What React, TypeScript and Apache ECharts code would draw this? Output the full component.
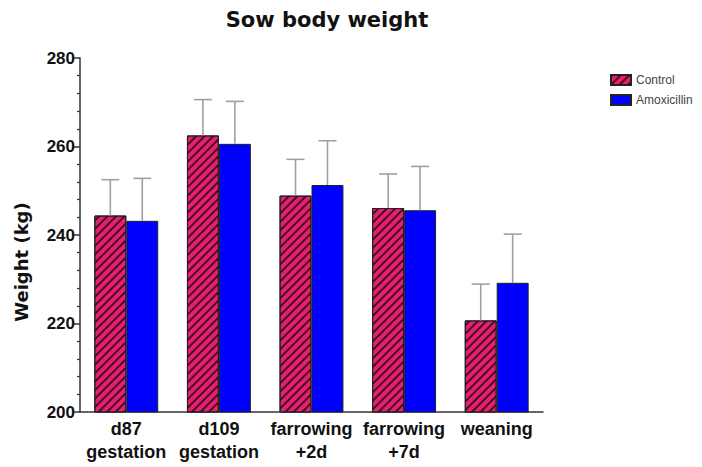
import React, { useEffect, useRef } from "react";
import * as echarts from "echarts";

const categories = ["d87\ngestation", "d109\ngestation", "farrowing\n+2d", "farrowing\n+7d", "weaning"];
const controlMeans = [244.4, 262.5, 248.9, 246.1, 220.7];
const controlErr = [8.1, 8.1, 8.2, 7.7, 8.2];
const amoxMeans = [243.2, 260.6, 251.3, 245.6, 229.2];
const amoxErr = [9.6, 9.6, 10.0, 9.9, 11.0];
const yTicks = { min: 200, max: 280, interval: 20 };

const BAR_GAP_CAT = 0.31;

function errorSeries(name: string, means: number[], errs: number[], side: number) {
  return {
    type: "custom",
    name,
    z: 5,
    silent: true,
    data: means.map((m, i) => [i, m, errs[i]]),
    encode: { x: 0, y: 1 },
    renderItem: (params: any, api: any) => {
      const idx = api.value(0);
      const m = api.value(1);
      const e = api.value(2);
      const band = api.size([1, 0])[0];
      const barW = (band * (1 - BAR_GAP_CAT)) / 2;
      const base = api.coord([idx, m]);
      const top = api.coord([idx, m + e]);
      const x = base[0] + side * barW / 2;
      const cap = 9;
      const style = { stroke: "#a0a0a0", lineWidth: 1.6 };
      return {
        type: "group",
        children: [
          { type: "line", shape: { x1: x, y1: base[1], x2: x, y2: top[1] }, style },
          { type: "line", shape: { x1: x - cap, y1: top[1], x2: x + cap, y2: top[1] }, style },
        ],
      };
    },
  };
}

export default function App() {
  const ref = useRef<HTMLDivElement>(null);
  useEffect(() => {
    if (!ref.current) return;
    const chart = echarts.init(ref.current, undefined, { renderer: "svg" });
    const labelFont = "Liberation Sans, Arial, sans-serif";
    chart.setOption({
      animation: false,
      backgroundColor: "#ffffff",
      title: {
        text: "Sow body weight",
        left: 322,
        top: 4,
        textAlign: "center",
        textStyle: { fontFamily: "DejaVu Sans", fontWeight: "bold", fontSize: 21, color: "#111" },
      },
      legend: {
        data: ["Control", "Amoxicillin"],
        orient: "vertical",
        left: 610,
        top: 74,
        icon: "rect",
        itemWidth: 20,
        itemHeight: 10,
        itemGap: 8,
        padding: 0,
        textStyle: { fontFamily: labelFont, fontSize: 12, color: "#444" },
      },
      grid: { left: 80, right: 159, top: 58, bottom: 55, containLabel: false },
      xAxis: {
        type: "category",
        data: categories,
        axisTick: { show: false },
        axisLine: { lineStyle: { color: "#333", width: 1.5 } },
        axisLabel: {
          fontFamily: labelFont,
          fontWeight: "bold",
          fontSize: 18,
          lineHeight: 23,
          color: "#111",
          margin: 5,
          interval: 0,
        },
      },
      yAxis: {
        type: "value",
        min: yTicks.min,
        max: yTicks.max,
        interval: yTicks.interval,
        splitLine: { show: false },
        axisLine: { show: true, lineStyle: { color: "#333", width: 1.5 } },
        axisTick: { show: true, length: 6, lineStyle: { color: "#333", width: 1.5 } },
        minorTick: { show: true, splitNumber: 5, length: 3, lineStyle: { color: "#333", width: 1.2 } },
        axisLabel: {
          fontFamily: labelFont,
          fontWeight: "bold",
          fontSize: 17,
          color: "#111",
          margin: 5,
        },
      },
      graphic: [
        {
          type: "text",
          x: 21,
          y: 262,
          rotation: Math.PI / 2,
          style: {
            text: "Weight (kg)",
            fontFamily: "DejaVu Sans",
            fontWeight: "bold",
            fontSize: 18,
            fill: "#111",
            textAlign: "center",
            textVerticalAlign: "middle",
          },
        },
      ],
      series: [
        {
          type: "bar",
          name: "Control",
          data: controlMeans,
          barGap: "0%",
          barCategoryGap: `${BAR_GAP_CAT * 100}%`,
          itemStyle: {
            color: "#e81e6e",
            borderColor: "#222",
            borderWidth: 1,
            decal: {
              symbol: "rect",
              symbolSize: 1,
              dashArrayX: [1, 0],
              dashArrayY: [2, 4],
              rotation: -Math.PI / 4,
              color: "rgba(40,10,25,0.85)",
            },
          },
        },
        {
          type: "bar",
          name: "Amoxicillin",
          data: amoxMeans,
          barGap: "0%",
          barCategoryGap: `${BAR_GAP_CAT * 100}%`,
          itemStyle: { color: "#0000ff", borderColor: "#222", borderWidth: 1 },
        },
        errorSeries("ctrlErr", controlMeans, controlErr, -1),
        errorSeries("amoxErr", amoxMeans, amoxErr, 1),
      ],
    });
    return () => chart.dispose();
  }, []);
  return <div ref={ref} style={{ width: 702, height: 467, position: "absolute", left: 0, top: 0 }} />;
}
